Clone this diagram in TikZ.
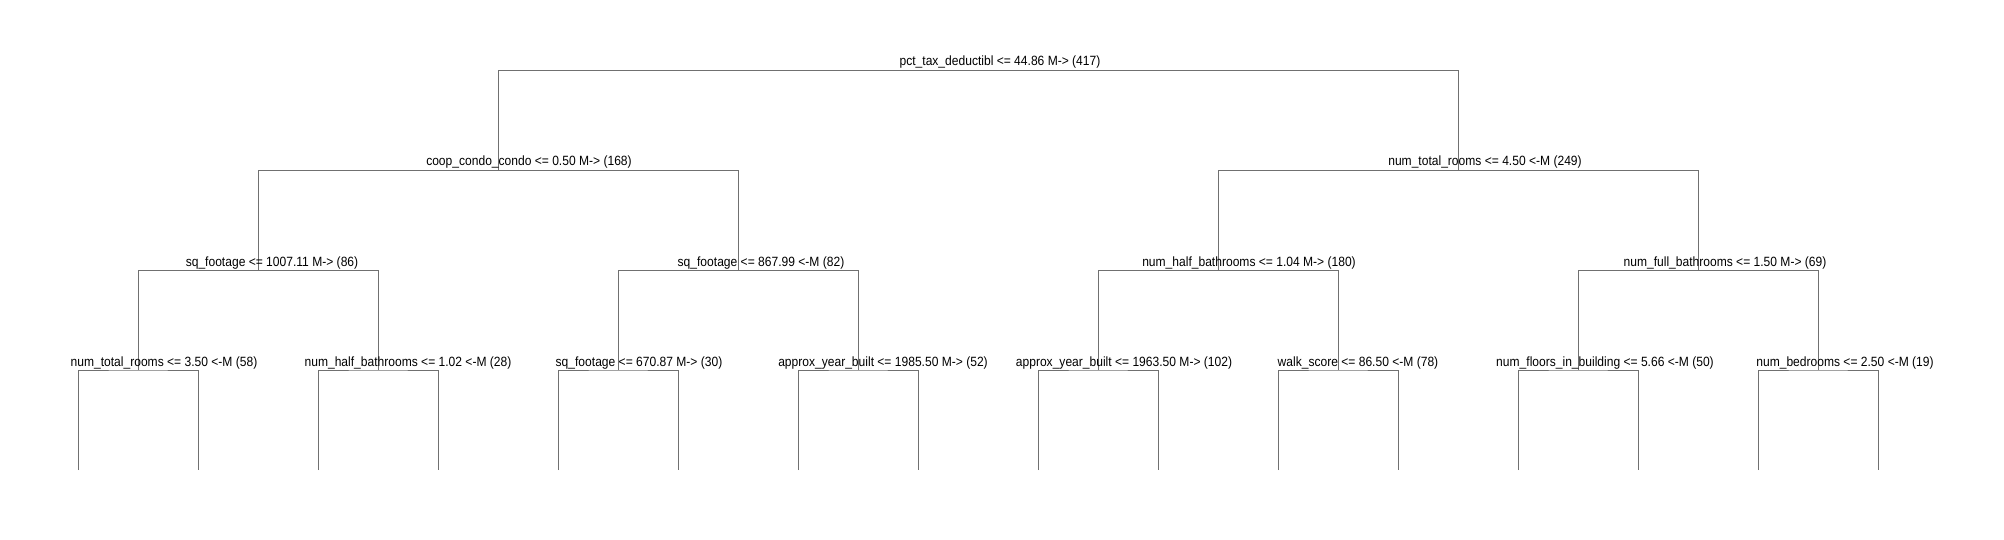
\documentclass[tikz,border=0pt]{standalone}
\usepackage{fontspec}
\setmainfont{Liberation Sans}[FakeStretch=0.9]
\definecolor{edge}{HTML}{707070}

\begin{document}
\begin{tikzpicture}[x=1pt, y=-1pt,
    split/.style={inner sep=0pt, anchor=base, font=\fontsize{13.4}{15}\selectfont},
    branch/.style={draw=edge, line width=0.9pt}]
    \useasboundingbox (0,0) rectangle (2004,540);

    \coordinate (root) at (978,70);
    \coordinate (n1) at (498,170);
    \coordinate (n2) at (1458,170);
    \coordinate (n11) at (258,270);
    \coordinate (n12) at (738,270);
    \coordinate (n21) at (1218,270);
    \coordinate (n22) at (1698,270);
    \coordinate (n111) at (138,370);
    \coordinate (n112) at (378,370);
    \coordinate (n121) at (618,370);
    \coordinate (n122) at (858,370);
    \coordinate (n211) at (1098,370);
    \coordinate (n212) at (1338,370);
    \coordinate (n221) at (1578,370);
    \coordinate (n222) at (1818,370);
    \foreach \i in {1,...,16}
      \coordinate (leaf\i) at (78+120*\i-120,470);

    \draw[branch] (root) -| (n1);
    \draw[branch] (root) -| (n2);
    \draw[branch] (n1) -| (n11);
    \draw[branch] (n1) -| (n12);
    \draw[branch] (n2) -| (n21);
    \draw[branch] (n2) -| (n22);
    \draw[branch] (n11) -| (n111);
    \draw[branch] (n11) -| (n112);
    \draw[branch] (n12) -| (n121);
    \draw[branch] (n12) -| (n122);
    \draw[branch] (n21) -| (n211);
    \draw[branch] (n21) -| (n212);
    \draw[branch] (n22) -| (n221);
    \draw[branch] (n22) -| (n222);
    \foreach \p/\a/\b in {n111/1/2, n112/3/4, n121/5/6, n122/7/8, n211/9/10, n212/11/12, n221/13/14, n222/15/16}
      \draw[branch] (leaf\a) |- (\p) -| (leaf\b);

    \node[split] (t-root) at (1000,66) {pct\_tax\_deductibl <= 44.86 M-> (417)};
    \node[split] (t-n1) at (529,166) {coop\_condo\_condo <= 0.50 M-> (168)};
    \node[split] (t-n2) at (1485,166) {num\_total\_rooms <= 4.50 <-M (249)};
    \node[split] (t-n11) at (272,266) {sq\_footage <= 1007.11 M-> (86)};
    \node[split] (t-n12) at (761,266) {sq\_footage <= 867.99 <-M (82)};
    \node[split] (t-n21) at (1249,266) {num\_half\_bathrooms <= 1.04 M-> (180)};
    \node[split] (t-n22) at (1725,266) {num\_full\_bathrooms <= 1.50 M-> (69)};
    \node[split] (t-n111) at (164,366) {num\_total\_rooms <= 3.50 <-M (58)};
    \node[split] (t-n112) at (408,366) {num\_half\_bathrooms <= 1.02 <-M (28)};
    \node[split] (t-n121) at (639,366) {sq\_footage <= 670.87 M-> (30)};
    \node[split] (t-n122) at (883,366) {approx\_year\_built <= 1985.50 M-> (52)};
    \node[split] (t-n211) at (1124,366) {approx\_year\_built <= 1963.50 M-> (102)};
    \node[split] (t-n212) at (1358,366) {walk\_score <= 86.50 <-M (78)};
    \node[split] (t-n221) at (1605,366) {num\_floors\_in\_building <= 5.66 <-M (50)};
    \node[split] (t-n222) at (1845,366) {num\_bedrooms <= 2.50 <-M (19)};
\end{tikzpicture}
\end{document}
